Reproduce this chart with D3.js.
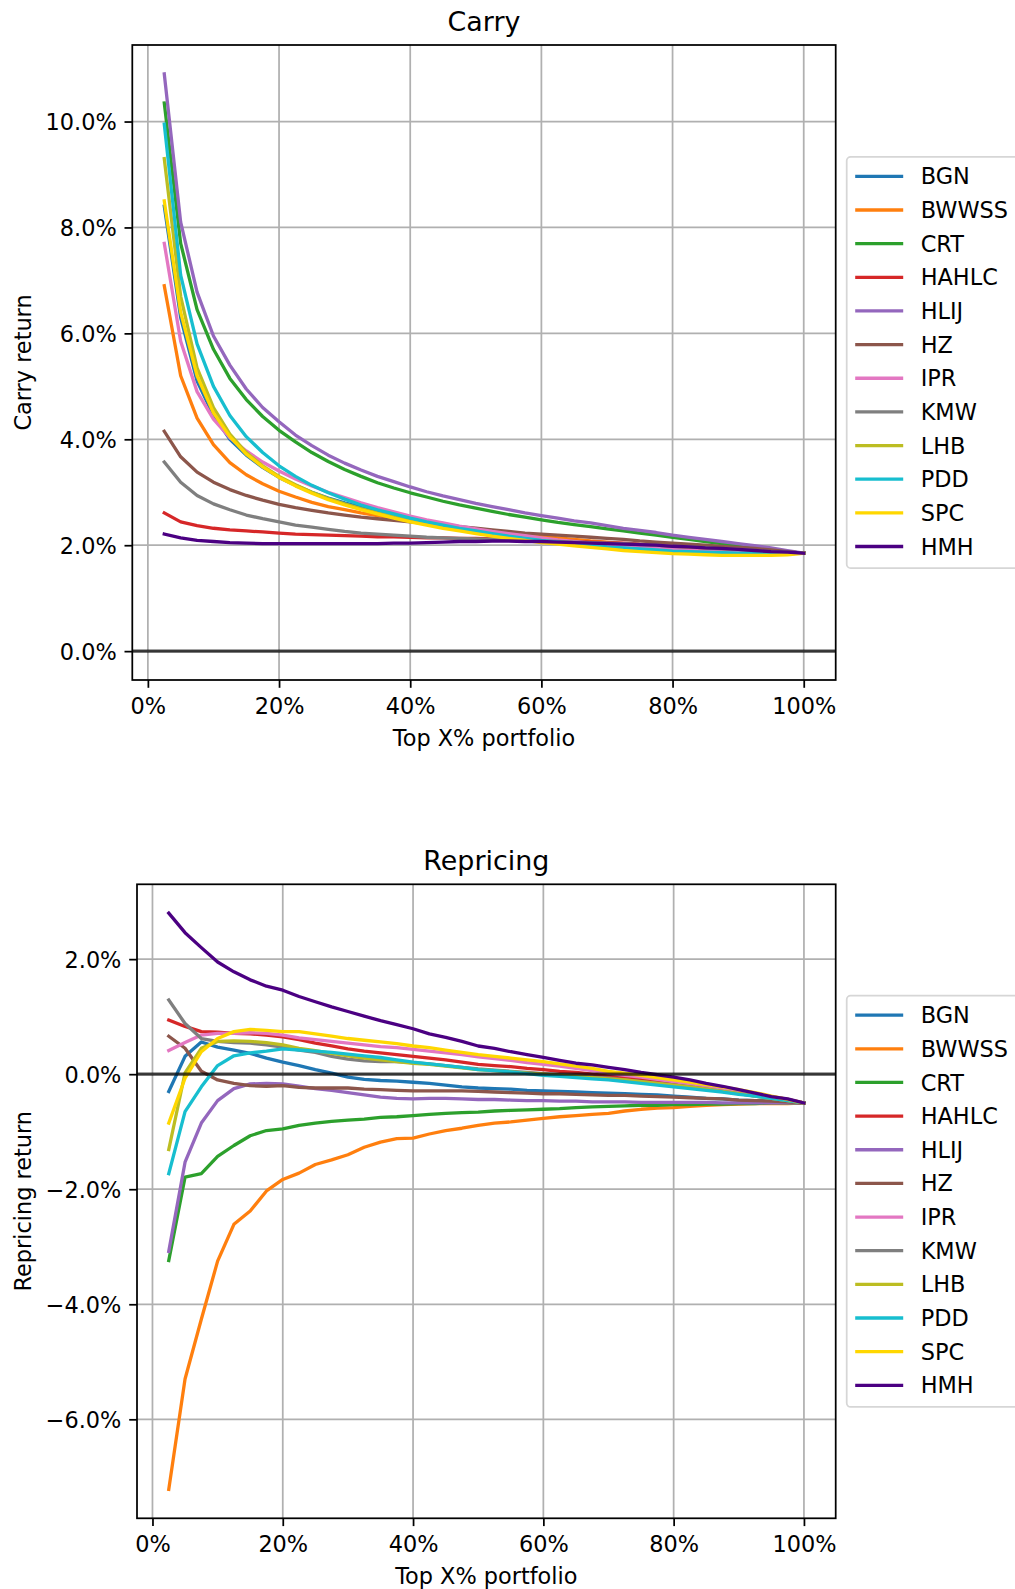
<!DOCTYPE html>
<html><head><meta charset="utf-8">
<script src="https://cdn.jsdelivr.net/npm/d3@7"></script>
<style>
body{margin:0;background:#fff;}
svg{display:block;font-family:"DejaVu Sans",sans-serif;}
</style>
</head><body>
<svg id="chart" width="1015" height="1589"></svg>
<script>
// ---------- data ----------
const xPct = [2.5,5,7.5,10,12.5,15,17.5,20,22.5,25,27.5,30,32.5,35,37.5,40,42.5,45,47.5,50,
              52.5,55,57.5,60,62.5,65,67.5,70,72.5,75,77.5,80,82.5,85,87.5,90,92.5,95,97.5,100];
const seriesNames = ["BGN","BWWSS","CRT","HAHLC","HLIJ","HZ","IPR","KMW","LHB","PDD","SPC","HMH"];
const seriesColors = ["#1f77b4","#ff7f0e","#2ca02c","#d62728","#9467bd","#8c564b","#e377c2","#7f7f7f","#bcbd22","#17becf","#ffd700","#4b0082"];
const xTicks = [0,20,40,60,80,100];
const carryYTicks = [0,2,4,6,8,10];
const repYTicks = [-6,-4,-2,0,2];

// Carry return (%)
const carryBGN   = [8.40,6.30,5.10,4.45,4.00,3.70,3.47,3.28,3.13,3.00,2.89,2.80,2.72,2.64,2.57,2.50,2.44,2.39,2.34,2.29,2.25,2.21,2.17,2.13,2.10,2.07,2.04,2.01,1.98,1.96,1.94,1.92,1.90,1.88,1.87,1.86,1.85,1.84,1.84,1.85];
const carryBWWSS = [6.90,5.20,4.40,3.90,3.56,3.33,3.16,3.02,2.91,2.81,2.73,2.67,2.61,2.56,2.51,2.46,2.42,2.38,2.34,2.30,2.27,2.23,2.20,2.17,2.14,2.11,2.08,2.06,2.03,2.01,1.99,1.97,1.95,1.93,1.91,1.90,1.88,1.87,1.86,1.85];
const carryCRT   = [10.35,7.70,6.45,5.70,5.15,4.75,4.43,4.17,3.95,3.75,3.58,3.43,3.30,3.18,3.08,2.99,2.91,2.83,2.76,2.70,2.64,2.58,2.53,2.48,2.43,2.39,2.35,2.31,2.27,2.23,2.19,2.15,2.11,2.07,2.03,2.00,1.96,1.92,1.88,1.85];
const carryHAHLC = [2.61,2.44,2.37,2.32,2.29,2.27,2.25,2.23,2.21,2.20,2.19,2.18,2.17,2.16,2.16,2.15,2.14,2.14,2.13,2.13,2.12,2.11,2.10,2.09,2.08,2.07,2.06,2.05,2.04,2.02,2.01,1.99,1.98,1.96,1.94,1.93,1.91,1.89,1.87,1.85];
const carryHLIJ  = [10.90,8.10,6.78,5.95,5.40,4.95,4.60,4.33,4.08,3.88,3.70,3.55,3.42,3.30,3.20,3.10,3.01,2.93,2.86,2.79,2.73,2.67,2.61,2.56,2.51,2.46,2.42,2.37,2.32,2.28,2.24,2.19,2.15,2.11,2.07,2.03,1.99,1.95,1.90,1.85];
const carryHZ    = [4.15,3.67,3.38,3.19,3.05,2.94,2.85,2.77,2.71,2.66,2.61,2.57,2.53,2.50,2.47,2.44,2.41,2.38,2.35,2.32,2.29,2.26,2.23,2.21,2.19,2.17,2.15,2.13,2.11,2.08,2.06,2.04,2.02,2.00,1.98,1.96,1.94,1.91,1.88,1.85];
const carryIPR   = [7.70,5.85,4.90,4.38,4.03,3.78,3.57,3.40,3.25,3.12,3.00,2.90,2.80,2.71,2.63,2.55,2.48,2.42,2.36,2.31,2.26,2.22,2.18,2.14,2.10,2.07,2.04,2.01,1.98,1.96,1.94,1.92,1.90,1.89,1.88,1.87,1.86,1.86,1.85,1.85];
const carryKMW   = [3.57,3.19,2.94,2.78,2.67,2.57,2.50,2.44,2.38,2.34,2.30,2.26,2.23,2.21,2.19,2.17,2.15,2.14,2.13,2.12,2.11,2.10,2.09,2.08,2.07,2.06,2.05,2.04,2.03,2.01,2.00,1.98,1.97,1.95,1.93,1.92,1.90,1.88,1.87,1.85];
const carryLHB   = [9.30,6.70,5.35,4.60,4.10,3.75,3.50,3.30,3.14,3.00,2.88,2.78,2.69,2.61,2.54,2.47,2.41,2.35,2.30,2.25,2.20,2.16,2.12,2.08,2.05,2.02,1.99,1.96,1.93,1.91,1.89,1.87,1.86,1.85,1.84,1.84,1.84,1.84,1.84,1.85];
const carryPDD   = [9.95,7.10,5.80,5.00,4.45,4.05,3.75,3.50,3.30,3.13,2.99,2.87,2.76,2.67,2.59,2.51,2.44,2.38,2.32,2.27,2.22,2.17,2.13,2.09,2.06,2.03,2.00,1.97,1.95,1.93,1.91,1.89,1.88,1.87,1.86,1.85,1.85,1.85,1.85,1.85];
const carrySPC   = [8.50,6.40,5.20,4.50,4.05,3.72,3.48,3.28,3.12,2.98,2.86,2.76,2.67,2.59,2.51,2.44,2.38,2.32,2.27,2.22,2.17,2.13,2.09,2.05,2.02,1.99,1.96,1.93,1.90,1.88,1.86,1.84,1.83,1.82,1.81,1.81,1.81,1.81,1.82,1.85];
const carryHMH   = [2.21,2.14,2.09,2.07,2.05,2.04,2.03,2.03,2.03,2.03,2.03,2.03,2.03,2.03,2.04,2.04,2.05,2.06,2.07,2.07,2.08,2.08,2.07,2.07,2.06,2.05,2.04,2.03,2.02,2.01,2.00,1.98,1.97,1.95,1.94,1.92,1.90,1.88,1.87,1.85];

// Repricing return (%)
const repBGN   = [-0.30,0.31,0.56,0.47,0.42,0.36,0.28,0.21,0.15,0.08,0.02,-0.05,-0.09,-0.11,-0.12,-0.14,-0.16,-0.19,-0.22,-0.24,-0.25,-0.26,-0.28,-0.29,-0.30,-0.31,-0.32,-0.33,-0.34,-0.35,-0.36,-0.38,-0.40,-0.42,-0.43,-0.45,-0.46,-0.47,-0.49,-0.50];
const repBWWSS = [-7.22,-5.30,-4.26,-3.25,-2.61,-2.38,-2.03,-1.83,-1.72,-1.57,-1.49,-1.40,-1.27,-1.18,-1.12,-1.11,-1.04,-0.98,-0.94,-0.89,-0.85,-0.83,-0.80,-0.77,-0.74,-0.72,-0.70,-0.68,-0.64,-0.61,-0.59,-0.58,-0.56,-0.54,-0.53,-0.52,-0.51,-0.51,-0.51,-0.50];
const repCRT   = [-3.24,-1.79,-1.73,-1.43,-1.24,-1.07,-0.98,-0.95,-0.89,-0.85,-0.82,-0.80,-0.78,-0.75,-0.74,-0.72,-0.70,-0.68,-0.67,-0.66,-0.64,-0.63,-0.62,-0.61,-0.60,-0.58,-0.57,-0.56,-0.55,-0.54,-0.54,-0.53,-0.53,-0.52,-0.52,-0.51,-0.51,-0.50,-0.50,-0.50];
const repHAHLC = [0.94,0.83,0.74,0.73,0.71,0.70,0.68,0.65,0.60,0.54,0.49,0.44,0.40,0.37,0.34,0.31,0.28,0.25,0.21,0.17,0.15,0.13,0.10,0.08,0.05,0.03,0.00,-0.03,-0.06,-0.09,-0.12,-0.16,-0.19,-0.23,-0.27,-0.31,-0.35,-0.39,-0.44,-0.50];
const repHLIJ  = [-3.08,-1.53,-0.85,-0.46,-0.25,-0.17,-0.16,-0.17,-0.21,-0.25,-0.28,-0.32,-0.36,-0.40,-0.42,-0.43,-0.42,-0.42,-0.43,-0.44,-0.44,-0.45,-0.46,-0.46,-0.47,-0.47,-0.48,-0.48,-0.48,-0.49,-0.49,-0.49,-0.49,-0.49,-0.50,-0.50,-0.50,-0.50,-0.50,-0.50];
const repHZ    = [0.66,0.45,0.05,-0.10,-0.16,-0.20,-0.21,-0.20,-0.23,-0.24,-0.24,-0.24,-0.26,-0.27,-0.28,-0.29,-0.29,-0.29,-0.29,-0.30,-0.31,-0.32,-0.33,-0.34,-0.34,-0.35,-0.36,-0.37,-0.37,-0.38,-0.39,-0.40,-0.41,-0.42,-0.43,-0.45,-0.46,-0.47,-0.48,-0.50];
const repIPR   = [0.41,0.55,0.68,0.71,0.71,0.72,0.71,0.68,0.63,0.60,0.57,0.54,0.51,0.48,0.46,0.43,0.40,0.37,0.34,0.30,0.27,0.24,0.20,0.17,0.14,0.10,0.06,0.02,-0.02,-0.05,-0.09,-0.13,-0.17,-0.21,-0.25,-0.30,-0.35,-0.40,-0.45,-0.50];
const repKMW   = [1.29,0.88,0.62,0.57,0.55,0.54,0.51,0.47,0.42,0.38,0.31,0.26,0.23,0.22,0.22,0.20,0.18,0.15,0.12,0.09,0.07,0.05,0.03,0.01,-0.01,-0.03,-0.05,-0.07,-0.10,-0.13,-0.16,-0.19,-0.22,-0.26,-0.30,-0.34,-0.38,-0.42,-0.46,-0.50];
const repLHB   = [-1.31,0.02,0.45,0.57,0.58,0.57,0.55,0.51,0.45,0.41,0.36,0.32,0.28,0.25,0.22,0.19,0.17,0.14,0.11,0.08,0.06,0.04,0.02,0.00,-0.02,-0.04,-0.06,-0.08,-0.10,-0.13,-0.16,-0.19,-0.22,-0.26,-0.30,-0.34,-0.38,-0.42,-0.46,-0.50];
const repPDD   = [-1.73,-0.65,-0.22,0.15,0.32,0.37,0.40,0.44,0.42,0.40,0.38,0.35,0.32,0.29,0.25,0.21,0.18,0.15,0.12,0.08,0.06,0.04,0.01,-0.02,-0.04,-0.06,-0.08,-0.10,-0.13,-0.16,-0.19,-0.22,-0.25,-0.28,-0.31,-0.35,-0.38,-0.42,-0.46,-0.50];
const repSPC   = [-0.85,-0.07,0.39,0.62,0.74,0.78,0.76,0.74,0.74,0.70,0.66,0.62,0.59,0.56,0.53,0.49,0.46,0.42,0.38,0.34,0.31,0.28,0.25,0.22,0.18,0.14,0.10,0.05,0.02,-0.02,-0.06,-0.10,-0.14,-0.18,-0.22,-0.27,-0.32,-0.38,-0.44,-0.50];
const repHMH   = [2.80,2.46,2.20,1.95,1.78,1.64,1.53,1.46,1.35,1.26,1.17,1.09,1.01,0.93,0.86,0.79,0.70,0.64,0.57,0.49,0.45,0.39,0.34,0.29,0.24,0.19,0.16,0.12,0.08,0.03,-0.01,-0.05,-0.10,-0.16,-0.21,-0.27,-0.33,-0.39,-0.43,-0.50];

const carrySeries = [carryBGN,carryBWWSS,carryCRT,carryHAHLC,carryHLIJ,carryHZ,carryIPR,carryKMW,carryLHB,carryPDD,carrySPC,carryHMH];
const repSeries   = [repBGN,repBWWSS,repCRT,repHAHLC,repHLIJ,repHZ,repIPR,repKMW,repLHB,repPDD,repSPC,repHMH];

// ---------- drawing ----------
const svg = d3.select("#chart");
const FS = 22.4;            // 10pt at ~161 dpi
const TFS = 26.9;           // 12pt
const LW = 3.3;             // 1.5pt
const SPINE = 1.75;         // 0.8pt
const TICK = 7.8;           // 3.5pt

function padDomain(ext, frac){ const r = ext[1]-ext[0]; return [ext[0]-r*frac, ext[1]+r*frac]; }

function panel(cfg){
  const {left,right,top,bottom,series,yTicks,title,ylabel} = cfg;
  const g = svg.append("g");
  const x = d3.scaleLinear().domain(padDomain(d3.extent(xPct),0.05)).range([left,right]);
  const allY = series.flat().concat([0]);
  const y = d3.scaleLinear().domain(padDomain(d3.extent(allY),0.05)).range([bottom,top]);

  // grid
  g.append("g").selectAll("line").data(xTicks).join("line")
    .attr("x1",d=>x(d)).attr("x2",d=>x(d)).attr("y1",top).attr("y2",bottom)
    .attr("stroke","#b0b0b0").attr("stroke-width",SPINE);
  g.append("g").selectAll("line").data(yTicks).join("line")
    .attr("x1",left).attr("x2",right).attr("y1",d=>y(d)).attr("y2",d=>y(d))
    .attr("stroke","#b0b0b0").attr("stroke-width",SPINE);

  // series lines
  const line = d3.line().x((d,i)=>x(xPct[i])).y(d=>y(d));
  g.append("g").selectAll("path").data(series).join("path")
    .attr("d",line).attr("fill","none")
    .attr("stroke",(d,i)=>seriesColors[i]).attr("stroke-width",LW)
    .attr("stroke-linejoin","round").attr("stroke-linecap","square");

  // zero line
  g.append("line").attr("x1",left).attr("x2",right).attr("y1",y(0)).attr("y2",y(0))
    .attr("stroke","#000").attr("stroke-opacity",0.7).attr("stroke-width",LW);

  // axes
  const xa = g.append("g").attr("transform",`translate(0,${bottom})`)
    .call(d3.axisBottom(x).tickValues(xTicks).tickFormat(d=>d+"%").tickSize(TICK).tickPadding(7.8).tickSizeOuter(0));
  const ya = g.append("g").attr("transform",`translate(${left},0)`)
    .call(d3.axisLeft(y).tickValues(yTicks).tickFormat(d=>d3.format(".1f")(d)+"%").tickSize(TICK).tickPadding(7.8).tickSizeOuter(0));
  [xa,ya].forEach(a=>{
    a.select(".domain").remove();
    a.selectAll(".tick line").attr("stroke","#000").attr("stroke-width",SPINE);
    a.selectAll(".tick text").attr("fill","#000").attr("font-size",FS).attr("font-family","DejaVu Sans");
  });
  xa.selectAll(".tick text").attr("dy","0.8em");
  ya.selectAll(".tick text").attr("dy","0.36em");

  // frame
  g.append("rect").attr("x",left).attr("y",top).attr("width",right-left).attr("height",bottom-top)
    .attr("fill","none").attr("stroke","#000").attr("stroke-width",SPINE);

  // texts
  g.append("text").attr("x",(left+right)/2).attr("y",top-14).attr("text-anchor","middle")
    .attr("font-size",TFS).text(title);
  g.append("text").attr("x",(left+right)/2).attr("y",bottom+66).attr("text-anchor","middle")
    .attr("font-size",FS).text("Top X% portfolio");
  g.append("text").attr("transform",`translate(30.5,${(top+bottom)/2}) rotate(-90)`).attr("text-anchor","middle")
    .attr("font-size",FS).text(ylabel);

  // legend
  const rowH = 33.65, boxH = 411.3;
  const boxTop = (top+bottom)/2 - boxH/2;
  const lx = right + 11;
  const lg = g.append("g");
  lg.append("rect").attr("x",lx).attr("y",boxTop).attr("width",220).attr("height",boxH).attr("rx",4)
    .attr("fill","#fff").attr("fill-opacity",0.8).attr("stroke","#d6d6d6").attr("stroke-width",SPINE);
  const rows = lg.selectAll("g.row").data(seriesNames).join("g").attr("class","row")
    .attr("transform",(d,i)=>`translate(0,${boxTop+19.5+i*rowH})`);
  rows.append("line").attr("x1",lx+8.5).attr("x2",lx+56.5).attr("y1",0).attr("y2",0)
    .attr("stroke",(d,i)=>seriesColors[i]).attr("stroke-width",LW);
  rows.append("text").attr("x",lx+74).attr("y",0).attr("dy","0.36em").attr("font-size",FS).text(d=>d);
}

panel({left:132.3,right:835.7,top:45,bottom:680,series:carrySeries,yTicks:carryYTicks,title:"Carry",ylabel:"Carry return"});
panel({left:137,right:835.7,top:884.3,bottom:1518.3,series:repSeries,yTicks:repYTicks,title:"Repricing",ylabel:"Repricing return"});
</script>
</body></html>
